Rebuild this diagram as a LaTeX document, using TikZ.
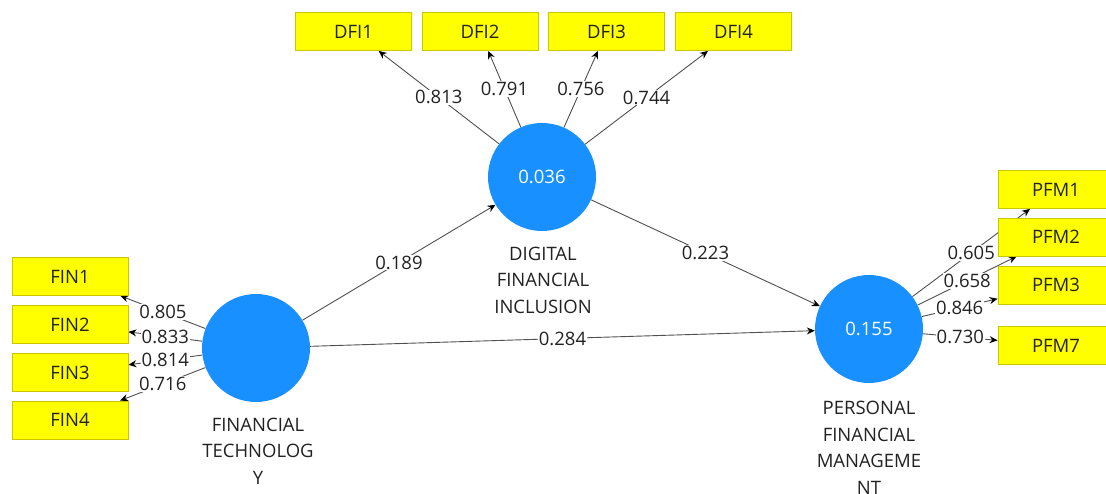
\documentclass[tikz,border=0pt]{standalone}
\usepackage{fontspec}
\setmainfont{Open Sans}
\usetikzlibrary{arrows.meta,backgrounds}
\definecolor{lvblue}{HTML}{1890FF}
\definecolor{indyellow}{HTML}{FFFF00}
\definecolor{indborder}{HTML}{C8C800}
\definecolor{arrowgray}{HTML}{505050}
\definecolor{txt}{HTML}{222222}
\begin{document}
\begin{tikzpicture}[x=1pt,y=-1pt,
  lv/.style={circle, fill=lvblue, minimum size=108pt, inner sep=0pt, text=white, font=\fontsize{18.5}{22}\selectfont},
  ind/.style={rectangle, fill=indyellow, draw=indborder, line width=0.8pt, minimum width=116pt, minimum height=38pt, inner sep=0pt, font=\fontsize{18.5}{22}\selectfont, text=txt},
  conn/.style={draw=arrowgray, line width=0.9pt, -{Stealth[length=8pt,width=7pt,color=black]}},
  lbl/.style={fill=white, inner sep=1pt, font=\fontsize{18.5}{22}\selectfont, text=txt},
  captext/.style={align=center, font=\fontsize{18.5}{26.5}\selectfont, text=txt}
]
\useasboundingbox (0,0) rectangle (1106,494);

% latent variables
\node[lv] (ft) at (256,348) {};
\node[lv] (dfi) at (542,177) {0.036};
\node[lv] (pfm) at (869,329) {0.155};

% captions
\node[captext] (ftcap) at (258,451) {FINANCIAL\\TECHNOLOG\\Y};
\node[captext] (dficap) at (543,280) {DIGITAL\\FINANCIAL\\INCLUSION};
\node[captext] (pfmcap) at (869,448) {PERSONAL\\FINANCIAL\\MANAGEME\\NT};

% indicators
\node[ind] (fin1) at (70,276.5) {FIN1};
\node[ind] (fin2) at (70,324.5) {FIN2};
\node[ind] (fin3) at (70,372.5) {FIN3};
\node[ind] (fin4) at (70,420) {FIN4};

\node[ind] (dfi1) at (353.5,31.5) {DFI1};
\node[ind] (dfi2) at (480,31.5) {DFI2};
\node[ind] (dfi3) at (606.5,31.5) {DFI3};
\node[ind] (dfi4) at (733.5,31.5) {DFI4};

\node[ind] (pfm1) at (1056,189.5) {PFM1};
\node[ind] (pfm2) at (1056,237) {PFM2};
\node[ind] (pfm3) at (1056,285) {PFM3};
\node[ind] (pfm7) at (1056,345.5) {PFM7};

\begin{scope}[on background layer]
\fill[white] (0,0) rectangle (1106,494);
% outer model
\draw[conn] (ft) -- node[lbl] {0.805} (fin1);
\draw[conn] (ft) -- node[lbl] {0.833} (fin2);
\draw[conn] (ft) -- node[lbl] {0.814} (fin3);
\draw[conn] (ft) -- node[lbl] {0.716} (fin4);

\draw[conn] (dfi) -- node[lbl] {0.813} (dfi1);
\draw[conn] (dfi) -- node[lbl] {0.791} (dfi2);
\draw[conn] (dfi) -- node[lbl] {0.756} (dfi3);
\draw[conn] (dfi) -- node[lbl] {0.744} (dfi4);

\draw[conn] (pfm) -- node[lbl] {0.605} (pfm1);
\draw[conn] (pfm) -- node[lbl] {0.658} (pfm2);
\draw[conn] (pfm) -- node[lbl] {0.846} (pfm3);
\draw[conn] (pfm) -- node[lbl] {0.730} (pfm7);

% inner model
\draw[conn] (ft) -- node[lbl] {0.189} (dfi);
\draw[conn] (ft) -- node[lbl] {0.284} (pfm);
\draw[conn] (dfi) -- node[lbl] {0.223} (pfm);
\end{scope}
\end{tikzpicture}
\end{document}
